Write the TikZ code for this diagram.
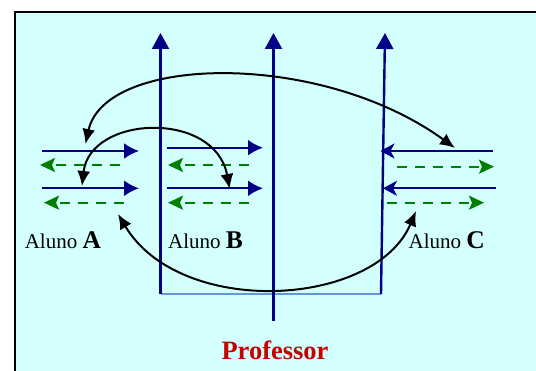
\documentclass[tikz,border=0pt]{standalone}
\usepackage{fontspec}
\setmainfont{Liberation Serif}
\usetikzlibrary{arrows.meta}
\definecolor{bgc}{RGB}{212,255,255}
\definecolor{navyc}{RGB}{0,0,135}
\definecolor{grn}{RGB}{0,128,0}
\definecolor{lblue}{RGB}{100,150,220}
\definecolor{profred}{RGB}{200,0,0}
\newcommand\alunoletter[1]{{\fontsize{25.5}{28}\selectfont\bfseries #1}}
\begin{document}
\begin{tikzpicture}[x=1pt,y=-1pt,
  bluearr/.style={navyc,line width=2.2pt,-{Latex[length=15pt,width=16pt]}},
  bluestl/.style={navyc,line width=2.2pt,-{Stealth[length=14pt,width=15pt,inset=4pt]}},
  uparr/.style={navyc,line width=2.4pt,-{Triangle[length=16pt,width=17pt]}},
  greenarr/.style={grn,line width=2.2pt,dash pattern=on 10pt off 8pt,-{Stealth[length=15pt,width=14pt,inset=3pt]}},
  talk/.style={black,line width=2pt,{Latex[length=15pt,width=13pt]}-{Latex[length=15pt,width=13pt]}},
  aluno/.style={anchor=base west,inner sep=0pt,font=\fontsize{21}{22}\selectfont}]
\useasboundingbox (0,0) rectangle (536,371);
% background frame
\fill[bgc] (15,12) rectangle (540,375);
\draw[line width=2.2pt] (15,375) -- (15,12) -- (540,12);
% professor lines
\coordinate (p1b) at (160.5,294);
\coordinate (p1t) at (160.5,33);
\coordinate (p2b) at (273.5,321);
\coordinate (p2t) at (273.5,33);
\coordinate (p3b) at (381,294);
\coordinate (p3t) at (385,33);
\draw[lblue,line width=2.6pt] (p1b) -- (p3b);
\draw[uparr] (p1b) -- (p1t);
\draw[uparr] (p2b) -- (p2t);
\draw[uparr] (p3b) -- (p3t);
% group A
\coordinate (a1s) at (42,151);   \coordinate (a1e) at (139,151);
\coordinate (a2s) at (42,188.3); \coordinate (a2e) at (139,188.3);
\coordinate (ag1s) at (120,165); \coordinate (ag1e) at (40,165);
\coordinate (ag2s) at (124,202.7); \coordinate (ag2e) at (44,202.7);
\draw[bluearr] (a1s) -- (a1e);
\draw[bluearr] (a2s) -- (a2e);
\draw[greenarr] (ag1s) -- (ag1e);
\draw[greenarr] (ag2s) -- (ag2e);
% group B
\coordinate (b1s) at (166.5,147.7); \coordinate (b1e) at (263,147.7);
\coordinate (b2s) at (166.5,188.3); \coordinate (b2e) at (263,188.3);
\coordinate (bg1s) at (248.5,165);  \coordinate (bg1e) at (168,165);
\coordinate (bg2s) at (248.5,202.7); \coordinate (bg2e) at (168,202.7);
\draw[bluearr] (b1s) -- (b1e);
\draw[bluearr] (b2s) -- (b2e);
\draw[greenarr] (bg1s) -- (bg1e);
\draw[greenarr] (bg2s) -- (bg2e);
% group C
\coordinate (c1s) at (492.5,151);  \coordinate (c1e) at (380.5,151);
\coordinate (c2s) at (495.5,188.3); \coordinate (c2e) at (383,188.3);
\coordinate (cg1s) at (397,166.7); \coordinate (cg1e) at (494,166.7);
\coordinate (cg2s) at (387,202.7); \coordinate (cg2e) at (484,202.7);
\draw[bluestl] (c1s) -- (c1e);
\draw[bluestl] (c2s) -- (c2e);
\draw[greenarr] (cg1s) -- (cg1e);
\draw[greenarr] (cg2s) -- (cg2e);
% interactions
\coordinate (tA1) at (85.5,144);
\coordinate (tC1) at (455,148);
\coordinate (tA2) at (82,186);
\coordinate (tB2) at (229.7,189);
\coordinate (tA3) at (118,214);
\coordinate (tC3) at (416,211);
\draw[talk] (tA1) .. controls (105,55) and (320,50) .. (tC1);
\draw[talk] (tA2) .. controls (90,115) and (215,110) .. (tB2);
\draw[talk] (tA3) .. controls (180,318) and (375,308) .. (tC3);
% labels
\node[aluno] (la) at (24.6,249) {Aluno \alunoletter{A}};
\node[aluno] (lb) at (168,249) {Aluno \alunoletter{B}};
\node[aluno] (lc) at (408.5,249) {Aluno \alunoletter{C}};
\node[anchor=base,inner sep=0pt,text=profred,font=\fontsize{26.5}{30}\selectfont\bfseries] (prof) at (275,360) {Professor};
\end{tikzpicture}
\end{document}
